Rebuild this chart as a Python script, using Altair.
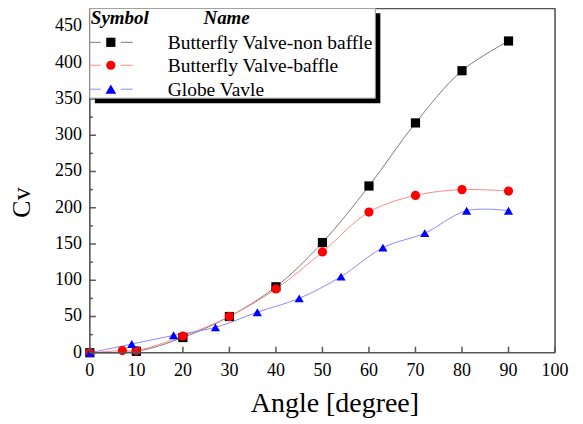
import altair as alt
import pandas as pd

SERIF = "Liberation Serif"

names = ["Butterfly Valve-non baffle", "Butterfly Valve-baffle", "Globe Vavle"]
marker_colors = ["#000000", "#ff0000", "#0000ff"]
line_colors = ["#7a7a7a", "#ff8a8a", "#8a8aff"]
shapes = ["square", "circle", "triangle-up"]
marker_sizes = [85, 85, 115]

angle_nonbaffle = [0, 10, 20, 30, 40, 50, 60, 70, 80, 90]
cv_nonbaffle = [0, 2, 21, 50, 91, 152, 230, 317, 389, 430]

angle_baffle = [0, 7, 10, 20, 30, 40, 50, 60, 70, 80, 90]
cv_baffle = [0, 3, 3, 23, 50, 88, 139, 194, 217, 225, 223]

angle_globe = [0, 9, 18, 27, 36, 45, 54, 63, 72, 81, 90]
cv_globe = [0, 12, 24, 35, 56, 75, 105, 145, 165, 196, 196]

x_ticks = [0, 10, 20, 30, 40, 50, 60, 70, 80, 90, 100]
y_ticks = [0, 50, 100, 150, 200, 250, 300, 350, 400, 450]
y_minor = [25, 75, 125, 175, 225, 275, 325, 375, 425]

frames = []
for name, xs, ys in [(names[0], angle_nonbaffle, cv_nonbaffle),
                     (names[1], angle_baffle, cv_baffle),
                     (names[2], angle_globe, cv_globe)]:
    frames.append(pd.DataFrame({"angle": xs, "cv": ys, "series": name}))
df = pd.concat(frames, ignore_index=True)
df["order"] = df["series"].map({n: i for i, n in enumerate(names)})

W, H = 466, 345
axis_color = "#555555"

xscale = alt.Scale(domain=[0, 100], nice=False, zero=False)
yscale = alt.Scale(domain=[0, 475], nice=False, zero=False)

x_axis = alt.Axis(values=x_ticks, labels=False, ticks=False, domain=False, grid=False,
                  title="Angle [degree]", titleFont=SERIF, titleFontSize=28, titleFontWeight="normal",
                  titleColor="black", titleX=245, titleY=59, titleBaseline="alphabetic")
y_axis = alt.Axis(values=y_ticks, labels=False, ticks=False, domain=False, grid=False,
                  title="Cv", titleFont=SERIF, titleFontSize=26, titleFontWeight="normal",
                  titleColor="black", titleX=-60, titleY=194, titleAngle=270,
                  titleAlign="center", titleBaseline="alphabetic")

X = alt.X("angle:Q", scale=xscale, axis=x_axis)
Y = alt.Y("cv:Q", scale=yscale, axis=y_axis)

base = alt.Chart(df)
lines = base.mark_line(interpolate="catmull-rom", strokeWidth=1).encode(
    x=X, y=Y,
    stroke=alt.Stroke("series:N", scale=alt.Scale(domain=names, range=line_colors), legend=None),
    detail="series:N",
)
points = base.mark_point(filled=True, opacity=1).encode(
    x=X, y=Y,
    fill=alt.Fill("series:N", scale=alt.Scale(domain=names, range=marker_colors), legend=None),
    shape=alt.Shape("series:N", scale=alt.Scale(domain=names, range=shapes), legend=None),
    size=alt.Size("series:N", scale=alt.Scale(domain=names, range=marker_sizes), legend=None),
    order=alt.Order("order:Q"),
)

xdf = pd.DataFrame({"angle": x_ticks})
ydf = pd.DataFrame({"cv": y_ticks})
xt = alt.Chart(xdf).mark_rule(color=axis_color, strokeWidth=1.5).encode(
    x=X, y=alt.value(H), y2=alt.value(H - 6))
yt = alt.Chart(ydf).mark_rule(color=axis_color, strokeWidth=1.5).encode(
    y=Y, x=alt.value(0), x2=alt.value(6))
ytm = alt.Chart(pd.DataFrame({"cv": y_minor})).mark_rule(color=axis_color, strokeWidth=1.5).encode(
    y=Y, x=alt.value(0), x2=alt.value(3))
xlab = alt.Chart(xdf).mark_text(font=SERIF, fontSize=18, baseline="top", align="center",
                                color="black").encode(
    x=X, y=alt.value(H + 9), text=alt.Text("angle:Q", format="d"))
ylab = alt.Chart(ydf).mark_text(font=SERIF, fontSize=18, baseline="middle", align="right",
                                color="black").encode(
    y=Y, x=alt.value(-8), text=alt.Text("cv:Q", format="d"))

dummy = pd.DataFrame({"a": [0]})
frame_layers = [
    alt.Chart(dummy).mark_rule(color=axis_color, strokeWidth=1.6).encode(
        x=alt.value(0), x2=alt.value(W), y=alt.value(0)),
    alt.Chart(dummy).mark_rule(color=axis_color, strokeWidth=1.6).encode(
        x=alt.value(0), x2=alt.value(W), y=alt.value(H)),
    alt.Chart(dummy).mark_rule(color=axis_color, strokeWidth=1.6).encode(
        x=alt.value(0), y=alt.value(0), y2=alt.value(H)),
    alt.Chart(dummy).mark_rule(color=axis_color, strokeWidth=1.6).encode(
        x=alt.value(W), y=alt.value(0), y2=alt.value(H)),
]

shadow = alt.Chart(dummy).mark_rect(color="black").encode(
    x=alt.value(5), x2=alt.value(291), y=alt.value(5), y2=alt.value(95))
box = alt.Chart(dummy).mark_rect(fill="white", stroke="#9a9a9a", strokeWidth=1).encode(
    x=alt.value(0), x2=alt.value(286), y=alt.value(0), y2=alt.value(90))
hdr1 = alt.Chart(dummy).mark_text(font=SERIF, fontSize=19, fontWeight="bold", fontStyle="italic",
                                  align="left", baseline="middle", color="black").encode(
    x=alt.value(1), y=alt.value(10), text=alt.value("Symbol"))
hdr2 = alt.Chart(dummy).mark_text(font=SERIF, fontSize=19, fontWeight="bold", fontStyle="italic",
                                  align="center", baseline="middle", color="black").encode(
    x=alt.value(137), y=alt.value(10), text=alt.value("Name"))

legend_layers = [shadow, box, hdr1, hdr2]
row_y = [34, 57, 81]
for i, name in enumerate(names):
    yy = row_y[i]
    legend_layers.append(alt.Chart(dummy).mark_rule(color=line_colors[i], strokeWidth=1).encode(
        x=alt.value(0), x2=alt.value(11), y=alt.value(yy)))
    legend_layers.append(alt.Chart(dummy).mark_rule(color=line_colors[i], strokeWidth=1).encode(
        x=alt.value(31), x2=alt.value(43), y=alt.value(yy)))
    legend_layers.append(alt.Chart(dummy).mark_point(filled=True, opacity=1, size=marker_sizes[i],
                                                     shape=shapes[i], color=marker_colors[i]).encode(
        x=alt.value(21), y=alt.value(yy)))
    legend_layers.append(alt.Chart(dummy).mark_text(font=SERIF, fontSize=19.5, align="left",
                                                    baseline="middle", color="black").encode(
        x=alt.value(78), y=alt.value(yy + 1), text=alt.value(name)))

chart = alt.layer(lines, points, xt, yt, ytm, xlab, ylab, *frame_layers, *legend_layers).properties(
    width=W, height=H,
    background="white",
    autosize=alt.AutoSizeParams(type="none"),
    padding={"left": 82, "top": 0, "right": 20, "bottom": 68},
).configure_view(stroke=None).configure_axis(titleFont=SERIF)

chart.save("out.html", embed_options={"renderer": "svg", "actions": False})
